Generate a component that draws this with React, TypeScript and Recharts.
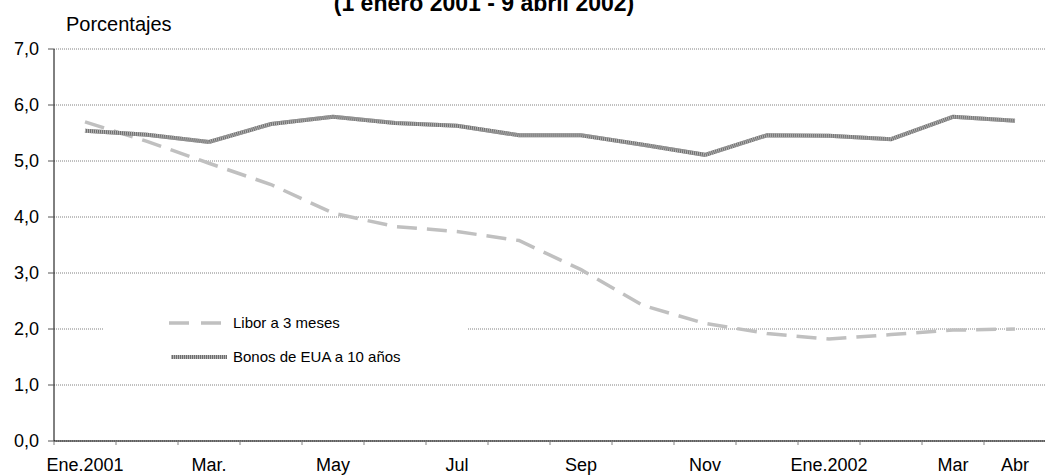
import { CartesianGrid, Legend, Line, LineChart, XAxis, YAxis } from "recharts"

const FONT = "'Liberation Sans', Arial, sans-serif"

const MONTHS = [
  "Ene.2001", "Feb", "Mar.", "Abr", "May", "Jun", "Jul", "Ago",
  "Sep", "Oct", "Nov", "Dic", "Ene.2002", "Feb", "Mar", "Abr",
]
const SHOWN = [0, 2, 4, 6, 8, 10, 12, 14, 15]

const LIBOR = [5.7, 5.35, 4.96, 4.58, 4.07, 3.83, 3.74, 3.58, 3.06, 2.42, 2.1, 1.92, 1.82, 1.9, 1.98, 2.0]
const BONOS = [5.54, 5.47, 5.34, 5.66, 5.79, 5.68, 5.63, 5.46, 5.46, 5.29, 5.11, 5.46, 5.45, 5.39, 5.79, 5.72]

const Y_TICKS = [0, 1, 2, 3, 4, 5, 6, 7]
const X_TICKS = [0, 1, 2, 3, 4, 5, 6, 7, 8, 9, 10, 11, 12, 13, 14, 15, 16]

const data = MONTHS.map((m, i) => ({ x: i + 0.5, m, libor: LIBOR[i], bonos: BONOS[i] }))

function MonthTick(props: any) {
  const { x, y, payload } = props
  const i = payload.value
  if (!SHOWN.includes(i)) return <g />
  return (
    <text x={x + 31} y={y} dy="0.71em" textAnchor="middle" fill="#000" fontSize={18} fontFamily={FONT}>
      {MONTHS[i]}
    </text>
  )
}

function LegendBox() {
  return (
    <svg width={365} height={80} style={{ display: "block" }}>
      <line x1={66} x2={118} y1={23} y2={23} stroke="#c0c0c0" strokeWidth={3.5} strokeDasharray="20 12" />
      <text x={130} y={23} dy="0.35em" fontSize={15} fontFamily={FONT} fill="#000">
        Libor a 3 meses
      </text>
      <line x1={68} x2={124} y1={57} y2={57} stroke="#6e6e6e" strokeWidth={4} />
      <line x1={68} x2={124} y1={57} y2={57} stroke="#b4b4b4" strokeWidth={4} strokeDasharray="1 1" />
      <text x={130} y={57} dy="0.35em" fontSize={15} fontFamily={FONT} fill="#000">
        Bonos de EUA a 10 años
      </text>
    </svg>
  )
}

export default function App() {
  return (
    <div
      style={{
        position: "absolute",
        left: 0,
        top: 0,
        width: 1045,
        height: 476,
        overflow: "hidden",
        background: "#fff",
        fontFamily: FONT,
      }}
    >
      <LineChart width={1046} height={476} data={data} margin={{ top: 49, right: 0, bottom: 0, left: 0 }}>
        <CartesianGrid vertical={false} stroke="#808080" strokeDasharray="1 1" />
        <XAxis
          dataKey="x"
          type="number"
          domain={[0, 16]}
          ticks={X_TICKS}
          interval={0}
          height={35}
          tick={<MonthTick />}
          tickSize={4}
          tickMargin={13}
          tickLine={{ stroke: "#808080" }}
          axisLine={{ stroke: "#000" }}
        />
        <YAxis
          domain={[0, 7]}
          ticks={Y_TICKS}
          interval={0}
          width={54}
          tickFormatter={(v: number) => v.toFixed(1).replace(".", ",")}
          tick={{ fill: "#000", fontSize: 18, fontFamily: FONT }}
          tickSize={6}
          tickMargin={9}
          tickLine={{ stroke: "#555" }}
          axisLine={{ stroke: "#000" }}
        />
        <Legend
          layout="vertical"
          align="center"
          verticalAlign="middle"
          content={() => <LegendBox />}
          wrapperStyle={{ left: 103, top: 300, width: 365, height: 80, background: "#fff" }}
        />
        <Line
          type="linear"
          dataKey="libor"
          name="Libor a 3 meses"
          stroke="#c0c0c0"
          strokeWidth={3.5}
          strokeDasharray="20 10"
          dot={false}
          isAnimationActive={false}
        />
        <Line
          type="linear"
          dataKey="bonos"
          name="Bonos de EUA a 10 años"
          stroke="#6e6e6e"
          strokeWidth={4}
          dot={false}
          isAnimationActive={false}
        />
        <Line
          type="linear"
          dataKey="bonos"
          legendType="none"
          stroke="#b4b4b4"
          strokeWidth={4}
          strokeDasharray="1 1"
          dot={false}
          isAnimationActive={false}
        />
      </LineChart>
      <div
        style={{
          position: "absolute",
          left: 0,
          width: 968,
          top: -10,
          textAlign: "center",
          fontWeight: "bold",
          fontSize: 23,
          lineHeight: "26px",
          color: "#000",
        }}
      >
        (1 enero 2001 - 9 abril 2002)
      </div>
      <div style={{ position: "absolute", left: 66, top: 12, fontSize: 20, lineHeight: "24px", color: "#000" }}>
        Porcentajes
      </div>
    </div>
  )
}
